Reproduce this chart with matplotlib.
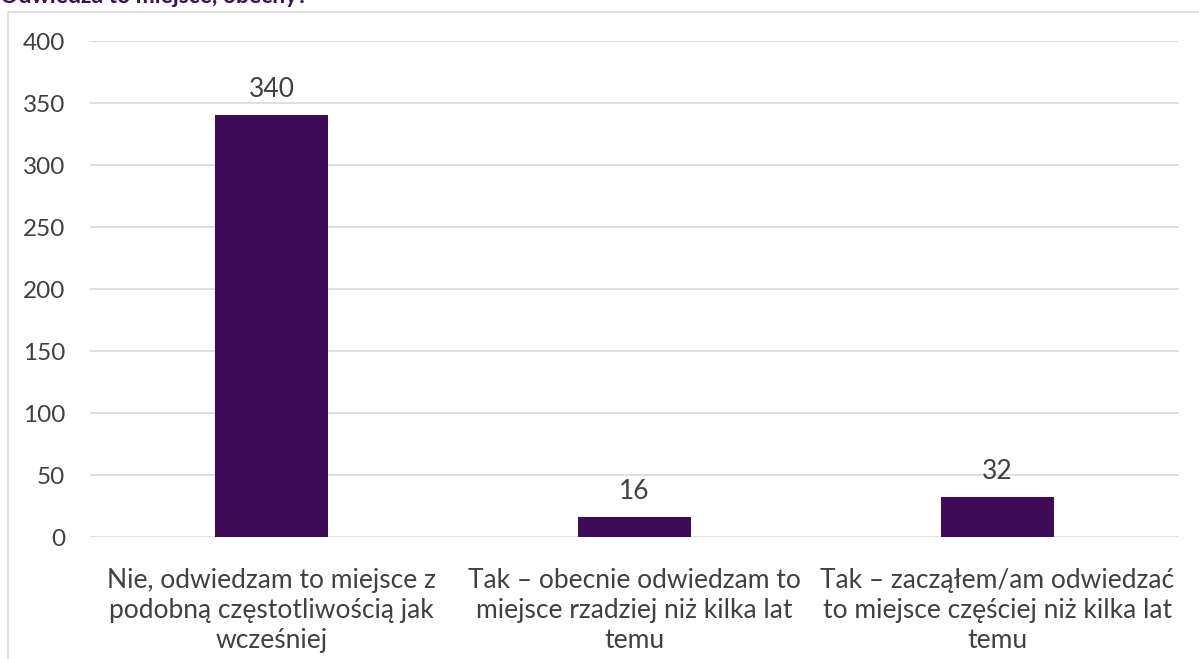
import matplotlib
matplotlib.use("Agg")
import matplotlib.pyplot as plt
from matplotlib.patches import Rectangle

plt.rcParams["font.family"] = ["Lato", "DejaVu Sans"]

categories = [
    "Nie, odwiedzam to miejsce z\npodobną częstotliwością jak\nwcześniej",
    "Tak – obecnie odwiedzam to\nmiejsce rzadziej niż kilka lat\ntemu",
    "Tak – zacząłem/am odwiedzać\nto miejsce częściej niż kilka lat\ntemu",
]
values = [340, 16, 32]
yticks = [0, 50, 100, 150, 200, 250, 300, 350, 400]
title = "Odwiedza to miejsce, obecny?"

bar_color = "#3f0a56"
text_color = "#404040"
grid_color = "#d9d9d9"

fig = plt.figure(figsize=(11.99, 6.59), dpi=100)

# ramka wykresu (jak w Excelu)
fig.patches.append(Rectangle((8 / 1199, -0.1), 1.2, 1.1 - 12 / 659, transform=fig.transFigure,
                             fill=False, edgecolor=grid_color, linewidth=1.2))

ax = fig.add_axes([90 / 1199, 1 - 537 / 659, (1179 - 90) / 1199, (537 - 41) / 659])
x = range(len(categories))
bars = ax.bar(x, values, width=0.31, color=bar_color, zorder=3)
for b, v in zip(bars, values):
    ax.text(b.get_x() + b.get_width() / 2, v + 11, str(v), ha="center", va="bottom",
            fontsize=19, color=text_color)

ax.set_xlim(-0.5, len(categories) - 0.5)
ax.set_ylim(0, 400)
ax.set_yticks(yticks)
ax.set_xticks(list(x))
ax.set_xticklabels(categories, fontsize=19, color=text_color, linespacing=1.25)
ax.tick_params(axis="y", labelsize=17.5, labelcolor=text_color, length=0, pad=18)
ax.tick_params(axis="x", length=0, pad=22)
ax.grid(axis="y", color=grid_color, linewidth=1.2, zorder=0)
for s in ax.spines.values():
    s.set_visible(False)

# tytuł ucięty u góry (jak w oryginale)
fig.text(0.0, 1 - 3 / 659, title, ha="left", va="baseline", fontsize=16.5,
         fontweight="bold", color=bar_color)

fig.savefig("out.png", dpi=100)
